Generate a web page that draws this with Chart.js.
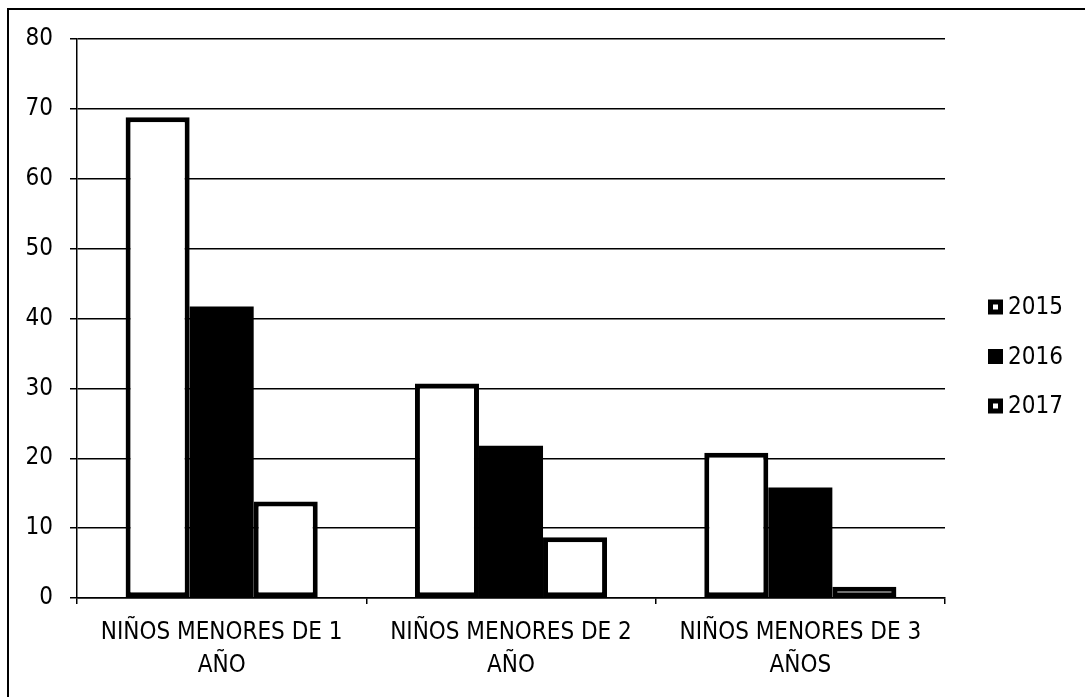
<!DOCTYPE html>
<html>
<head>
<meta charset="utf-8">
<script src="https://cdn.jsdelivr.net/npm/chart.js@4/dist/chart.umd.min.js"></script>
<style>
    body { margin: 0; background: #fff; }
    .wrap { position: relative; width: 1085px; height: 697px; }
    .frame { position: absolute; left: 7px; top: 8px; right: 0; bottom: 0; border-left: 2px solid #000; border-top: 2px solid #000; pointer-events: none; }
</style>
</head>
<body>
<div class="wrap">
    <canvas id="barChart"></canvas>
    <div class="frame"></div>
</div>
<script>
// Data
const categories = [["NIÑOS MENORES DE 1", "AÑO"], ["NIÑOS MENORES DE 2", "AÑO"], ["NIÑOS MENORES DE 3", "AÑOS"]];
const years = ["2015", "2016", "2017"];
const values2015 = [68.8, 30.7, 20.8];
const values2016 = [41.7, 21.8, 15.8];
const values2017 = [13.8, 8.7, 1.6];
const yTicks = [0, 10, 20, 30, 40, 50, 60, 70, 80];

const FONT = "'DejaVu Sans Condensed', 'Liberation Sans Narrow', 'Liberation Sans', sans-serif";

// Legend drawn by hand so it sits where the original one does
const sideLegend = {
    id: "sideLegend",
    afterDraw(chart) {
        const ctx = chart.ctx;
        const x = chart.chartArea.right + 43;
        const step = 49.5;
        const mid = chart.height / 2 + 8;
        ctx.save();
        ctx.font = "24px " + FONT;
        ctx.textBaseline = "middle";
        chart.data.datasets.forEach((ds, i) => {
            const cy = mid + (i - 1) * step;
            ctx.fillStyle = "#000";
            ctx.fillRect(x, cy - 7.5, 15, 15);
            if (ds.backgroundColor !== "#000000") {
                ctx.fillStyle = ds.backgroundColor;
                ctx.fillRect(x + 5, cy - 2.5, 5, 5);
            }
            ctx.fillStyle = "#000";
            ctx.fillText(ds.label, x + 20, cy + 1);
        });
        ctx.restore();
    }
};

const ctx = document.getElementById("barChart");
new Chart(ctx, {
    type: "bar",
    data: {
        labels: categories,
        datasets: [
            { label: years[0], data: values2015, backgroundColor: "#ffffff", borderColor: "#000000", borderWidth: 5, borderSkipped: false },
            { label: years[1], data: values2016, backgroundColor: "#000000", borderColor: "#000000", borderWidth: 0 },
            { label: years[2], data: values2017, backgroundColor: "#ffffff", borderColor: "#000000", borderWidth: 5, borderSkipped: false }
        ]
    },
    options: {
        responsive: true,
        maintainAspectRatio: false,
        animation: false,
        categoryPercentage: 0.664,
        barPercentage: 1,
        layout: { padding: { top: 39, right: 140, bottom: 0, left: 0 } },
        plugins: {
            legend: { display: false },
            tooltip: { enabled: false }
        },
        scales: {
            x: {
                afterFit: s => { s.height = 99; },
                grid: { offset: true, drawOnChartArea: false, color: "#000", lineWidth: 1.5, tickLength: 6 },
                border: { color: "#000", width: 1.5 },
                ticks: { color: "#000", padding: 13, maxRotation: 0, font: { family: FONT, size: 24, lineHeight: 1.35 } }
            },
            y: {
                min: 0,
                max: 80,
                afterFit: s => { s.width = 77; },
                afterBuildTicks: s => { s.ticks = yTicks.map(v => ({ value: v })); },
                grid: { color: "#000", lineWidth: 1.5, tickLength: 7 },
                border: { color: "#000", width: 1.5 },
                ticks: { color: "#000", padding: 17, font: { family: FONT, size: 24 } }
            }
        }
    },
    plugins: [sideLegend]
});
</script>
</body>
</html>
